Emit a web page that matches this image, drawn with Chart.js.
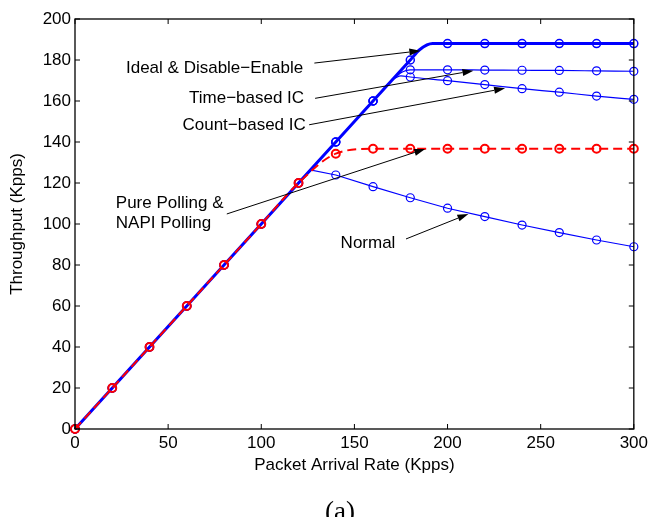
<!DOCTYPE html>
<html>
<head>
<meta charset="utf-8">
<script src="https://cdn.jsdelivr.net/npm/chart.js@4"></script>
<style>
  html, body { margin: 0; padding: 0; background: #fff; }
</style>
</head>
<body>
<canvas id="tp-chart" width="652" height="517"></canvas>
<script>
// packet arrival rate (Kpps) and throughput (Kpps) per scheme
const idealX = [0, 20, 40, 60, 80, 100, 120, 140, 160, 180, 185, 192, 200, 220, 240, 260, 280, 300];
const idealY = [0, 20, 40, 60, 80, 100, 120, 140, 160, 180, 185, 188, 188, 188, 188, 188, 188, 188];

const timeX = [0, 20, 40, 60, 80, 100, 120, 140, 160, 170, 176, 180, 200, 220, 240, 260, 280, 300];
const timeY = [0, 20, 40, 60, 80, 100, 120, 140, 160, 170, 174.3, 175.2, 175.2, 175.1, 175, 174.9, 174.7, 174.5];

const countX = [0, 20, 40, 60, 80, 100, 120, 140, 160, 170, 175, 180, 200, 220, 240, 260, 280, 300];
const countY = [0, 20, 40, 60, 80, 100, 120, 140, 160, 170, 172.3, 171.7, 169.9, 168, 166, 164.3, 162.4, 160.8];

const pollX = [0, 20, 40, 60, 80, 100, 120, 140, 160, 180, 200, 220, 240, 260, 280, 300];
const pollY = [0, 20, 40, 60, 80, 100, 120, 134.3, 136.7, 136.7, 136.7, 136.7, 136.7, 136.7, 136.7, 136.7];

const normalX = [0, 20, 40, 60, 80, 100, 120, 127, 140, 160, 180, 200, 220, 240, 260, 280, 300];
const normalY = [0, 20, 40, 60, 80, 100, 120, 126.3, 123.9, 118.2, 112.8, 107.7, 103.6, 99.5, 95.8, 92.2, 88.9];

const xTicks = [0, 50, 100, 150, 200, 250, 300];
const yTicks = [0, 20, 40, 60, 80, 100, 120, 140, 160, 180, 200];

const pairs = (xs, ys) => xs.map((x, i) => ({ x: x, y: ys[i] }));

// labels with arrows, in data units: text anchor, line start, arrow tip
const notes = [
  { text: ["Ideal & Disable\u2212Enable"], align: "right", at: [122.5, 176.1], from: [128.5, 178.5], to: [185.4, 184.5] },
  { text: ["Time\u2212based IC"], align: "right", at: [123, 161.5], from: [128.9, 161.3], to: [213.9, 174.8] },
  { text: ["Count\u2212based IC"], align: "right", at: [123.9, 148.3], from: [125.7, 148.4], to: [230.9, 166.2] },
  { text: ["Pure Polling &", "NAPI Polling"], align: "left", at: [21.9, 110.0], from: [81.5, 104.9], to: [188, 136.6] },
  { text: ["Normal"], align: "right", at: [172, 90.6], from: [177.7, 92.7], to: [211.2, 104.9] },
];

const BLUE = "#0000ff";
const RED = "#ff0000";
const FONT = "'Liberation Sans', Arial, Helvetica, sans-serif";

const markerRadius = (r) => (ctx) => (ctx.raw && ctx.raw.x % 20 === 0 ? r : 0);

function drawArrow(ctx, x1, y1, x2, y2) {
  const a = Math.atan2(y2 - y1, x2 - x1);
  const len = 11, w = 3.5;
  ctx.beginPath();
  ctx.moveTo(x1, y1);
  ctx.lineTo(x2 - len * Math.cos(a), y2 - len * Math.sin(a));
  ctx.stroke();
  ctx.beginPath();
  ctx.moveTo(x2, y2);
  ctx.lineTo(x2 - len * Math.cos(a) + w * Math.sin(a), y2 - len * Math.sin(a) - w * Math.cos(a));
  ctx.lineTo(x2 - len * Math.cos(a) - w * Math.sin(a), y2 - len * Math.sin(a) + w * Math.cos(a));
  ctx.closePath();
  ctx.fill();
}

const frameAndNotes = {
  id: "frameAndNotes",
  afterDraw(chart) {
    const ctx = chart.ctx;
    const { left, right, top, bottom } = chart.chartArea;
    const xs = chart.scales.x, ys = chart.scales.y;
    ctx.save();
    ctx.strokeStyle = "#000";
    ctx.fillStyle = "#000";
    ctx.lineWidth = 1.3;
    ctx.strokeRect(left, top, right - left, bottom - top);

    // inward ticks on all four sides
    ctx.lineWidth = 1;
    ctx.beginPath();
    xTicks.forEach((v) => {
      const p = xs.getPixelForValue(v);
      ctx.moveTo(p, bottom); ctx.lineTo(p, bottom - 5);
      ctx.moveTo(p, top); ctx.lineTo(p, top + 5);
    });
    yTicks.forEach((v) => {
      const p = ys.getPixelForValue(v);
      ctx.moveTo(left, p); ctx.lineTo(left + 5, p);
      ctx.moveTo(right, p); ctx.lineTo(right - 5, p);
    });
    ctx.stroke();

    // annotations
    ctx.font = "17px " + FONT;
    ctx.textBaseline = "middle";
    ctx.lineWidth = 1;
    notes.forEach((n) => {
      const tx = xs.getPixelForValue(n.at[0]);
      const ty = ys.getPixelForValue(n.at[1]);
      ctx.textAlign = n.align;
      n.text.forEach((line, i) => ctx.fillText(line, tx, ty + i * 19.4));
      drawArrow(ctx,
        xs.getPixelForValue(n.from[0]), ys.getPixelForValue(n.from[1]),
        xs.getPixelForValue(n.to[0]), ys.getPixelForValue(n.to[1]));
    });

    // sub-figure caption, cut by the bottom edge as in the source
    ctx.font = "27px 'Liberation Serif', 'Times New Roman', serif";
    ctx.textAlign = "center";
    ctx.textBaseline = "alphabetic";
    ctx.fillText("(a)", 340, 520);
    ctx.restore();
  },
};

const ctx = document.getElementById("tp-chart").getContext("2d");
new Chart(ctx, {
  type: "line",
  data: {
    datasets: [
      {
        label: "Pure Polling & NAPI Polling",
        data: pairs(pollX, pollY),
        borderColor: RED,
        borderWidth: 2,
        borderDash: [9, 5],
        pointStyle: "circle",
        pointRadius: markerRadius(4),
        pointBorderWidth: 2,
        pointBorderColor: RED,
        pointBackgroundColor: "rgba(0,0,0,0)",
        cubicInterpolationMode: "monotone",
        clip: false,
      },
      {
        label: "Ideal & Disable-Enable",
        data: pairs(idealX, idealY),
        borderColor: BLUE,
        borderWidth: 3,
        pointRadius: markerRadius(4),
        pointBorderWidth: 1.5,
        pointBorderColor: BLUE,
        pointBackgroundColor: "rgba(0,0,0,0)",
        cubicInterpolationMode: "monotone",
        clip: false,
      },
      {
        label: "Time-based IC",
        data: pairs(timeX, timeY),
        borderColor: BLUE,
        borderWidth: 1.2,
        pointRadius: markerRadius(4),
        pointBorderWidth: 1.2,
        pointBorderColor: BLUE,
        pointBackgroundColor: "rgba(0,0,0,0)",
        cubicInterpolationMode: "monotone",
        clip: false,
      },
      {
        label: "Count-based IC",
        data: pairs(countX, countY),
        borderColor: BLUE,
        borderWidth: 1.2,
        pointRadius: markerRadius(4),
        pointBorderWidth: 1.2,
        pointBorderColor: BLUE,
        pointBackgroundColor: "rgba(0,0,0,0)",
        cubicInterpolationMode: "monotone",
        clip: false,
      },
      {
        label: "Normal",
        data: pairs(normalX, normalY),
        borderColor: BLUE,
        borderWidth: 1.2,
        pointRadius: markerRadius(4),
        pointBorderWidth: 1.2,
        pointBorderColor: BLUE,
        pointBackgroundColor: "rgba(0,0,0,0)",
        tension: 0,
        clip: false,
      },
    ],
  },
  options: {
    responsive: false,
    animation: false,
    layout: { padding: { top: 19, right: 16, left: 0, bottom: 38 } },
    plugins: {
      legend: { display: false },
      tooltip: { enabled: false },
    },
    scales: {
      x: {
        type: "linear",
        min: 0,
        max: 300,
        afterBuildTicks: (s) => { s.ticks = xTicks.map((v) => ({ value: v })); },
        afterFit: (s) => { s.height = 50; },
        grid: { display: false, drawTicks: false },
        border: { display: false },
        ticks: { color: "#000", padding: 4, maxRotation: 0, font: { family: FONT, size: 17 } },
        title: {
          display: true,
          text: "Packet Arrival Rate (Kpps)",
          color: "#000",
          padding: { top: 0, bottom: 3 },
          font: { family: FONT, size: 17 },
        },
      },
      y: {
        min: 0,
        max: 200,
        afterBuildTicks: (s) => { s.ticks = yTicks.map((v) => ({ value: v })); },
        afterFit: (s) => { s.width = 75; },
        grid: { display: false, drawTicks: false },
        border: { display: false },
        ticks: { color: "#000", padding: 4, font: { family: FONT, size: 17 } },
        title: {
          display: true,
          text: "Throughput (Kpps)",
          color: "#000",
          padding: { top: 7, bottom: 0 },
          font: { family: FONT, size: 17 },
        },
      },
    },
  },
  plugins: [frameAndNotes],
});
</script>
</body>
</html>
